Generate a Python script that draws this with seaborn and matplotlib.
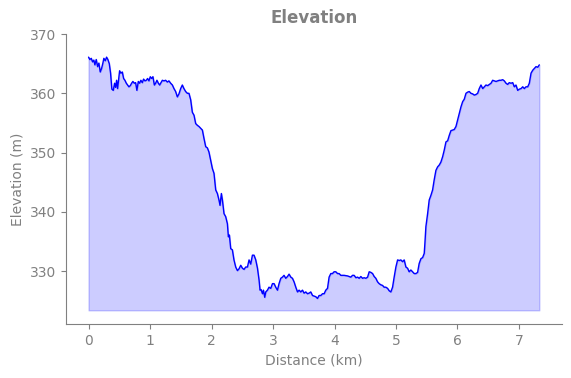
import pandas as pd
import seaborn as sns
import matplotlib.pyplot as plt

distance_km = [
    0.000, 0.021, 0.044, 0.065, 0.086, 0.103, 0.125, 0.147, 0.168, 0.190,
    0.212, 0.233, 0.249, 0.272, 0.293, 0.314, 0.337, 0.358, 0.379, 0.402,
    0.423, 0.440, 0.456, 0.472, 0.488, 0.505, 0.526, 0.549, 0.570, 0.591,
    0.614, 0.635, 0.656, 0.679, 0.700, 0.721, 0.744, 0.765, 0.786, 0.809,
    0.830, 0.851, 0.874, 0.895, 0.917, 0.939, 0.960, 0.982, 1.004, 1.026,
    1.047, 1.070, 1.091, 1.112, 1.135, 1.156, 1.177, 1.200, 1.226, 1.254,
    1.281, 1.307, 1.335, 1.363, 1.389, 1.416, 1.444, 1.470, 1.498, 1.525,
    1.551, 1.579, 1.607, 1.633, 1.661, 1.688, 1.715, 1.742, 1.770, 1.796,
    1.823, 1.851, 1.877, 1.905, 1.932, 1.958, 1.986, 2.014, 2.040, 2.068,
    2.095, 2.121, 2.138, 2.160, 2.177, 2.203, 2.230, 2.258, 2.274, 2.290,
    2.312, 2.339, 2.365, 2.393, 2.421, 2.447, 2.475, 2.502, 2.528, 2.556,
    2.584, 2.610, 2.637, 2.665, 2.691, 2.719, 2.747, 2.773, 2.789, 2.806,
    2.828, 2.844, 2.865, 2.882, 2.909, 2.935, 2.963, 2.991, 3.017, 3.044,
    3.072, 3.098, 3.126, 3.153, 3.179, 3.207, 3.235, 3.261, 3.289, 3.316,
    3.342, 3.370, 3.398, 3.424, 3.451, 3.479, 3.505, 3.533, 3.560, 3.587,
    3.614, 3.642, 3.668, 3.695, 3.723, 3.749, 3.777, 3.805, 3.831, 3.858,
    3.886, 3.912, 3.940, 3.967, 3.993, 4.021, 4.049, 4.075, 4.102, 4.156,
    4.212, 4.265, 4.293, 4.319, 4.347, 4.375, 4.401, 4.428, 4.456, 4.482,
    4.510, 4.538, 4.564, 4.591, 4.619, 4.645, 4.672, 4.700, 4.726, 4.754,
    4.781, 4.807, 4.835, 4.863, 4.889, 4.916, 4.944, 4.970, 4.998, 5.026,
    5.052, 5.079, 5.107, 5.133, 5.161, 5.188, 5.214, 5.242, 5.270, 5.296,
    5.324, 5.351, 5.377, 5.405, 5.433, 5.459, 5.470, 5.486, 5.514, 5.540,
    5.568, 5.595, 5.621, 5.649, 5.677, 5.703, 5.730, 5.758, 5.784, 5.812,
    5.840, 5.866, 5.893, 5.921, 5.947, 5.975, 6.002, 6.028, 6.056, 6.084,
    6.110, 6.138, 6.165, 6.191, 6.219, 6.247, 6.273, 6.300, 6.328, 6.354,
    6.382, 6.410, 6.436, 6.463, 6.491, 6.517, 6.545, 6.572, 6.598, 6.626,
    6.654, 6.680, 6.707, 6.735, 6.761, 6.789, 6.816, 6.842, 6.870, 6.898,
    6.924, 6.951, 6.979, 7.005, 7.033, 7.061, 7.087, 7.114, 7.142, 7.168,
    7.196, 7.224, 7.250, 7.277, 7.305, 7.331,
]

elevation_m = [
    366.1, 365.7, 365.9, 365.3, 365.6, 364.8, 365.7, 364.5, 365.1, 363.6,
    364.2, 365.1, 365.9, 365.5, 366.1, 365.7, 365.0, 363.4, 360.7, 360.5,
    361.7, 361.0, 362.2, 360.8, 362.2, 363.8, 363.4, 363.6, 362.5, 362.2,
    361.7, 361.4, 361.1, 361.3, 361.7, 362.0, 361.7, 361.8, 360.5, 362.0,
    361.7, 362.2, 361.8, 362.4, 362.1, 362.2, 362.5, 362.1, 362.8, 362.5,
    362.8, 361.4, 361.7, 362.2, 361.7, 361.4, 361.8, 362.2, 362.1, 362.2,
    361.9, 362.1, 361.7, 361.4, 360.8, 360.3, 359.4, 359.9, 360.8, 361.4,
    360.8, 360.3, 360.0, 360.0, 358.9, 356.8, 356.3, 354.9, 354.6, 354.4,
    354.1, 353.8, 352.4, 351.0, 350.8, 350.1, 348.7, 347.3, 346.5, 343.7,
    343.1, 342.0, 341.1, 343.1, 342.0, 339.7, 339.2, 338.0, 335.8, 336.1,
    333.8, 333.6, 331.9, 330.7, 330.1, 330.4, 331.0, 330.5, 330.3, 330.7,
    330.7, 331.9, 331.2, 332.7, 332.7, 331.9, 330.5, 328.5, 326.8, 326.9,
    326.2, 326.8, 325.6, 326.5, 326.8, 327.3, 327.1, 327.9, 327.9, 327.3,
    326.8, 327.9, 328.8, 329.0, 329.3, 328.8, 329.1, 329.5, 329.0, 328.8,
    328.2, 327.3, 326.5, 326.8, 326.5, 326.8, 326.3, 326.5, 326.2, 326.3,
    326.5, 325.9, 325.8, 325.7, 325.4, 325.9, 325.9, 326.2, 326.2, 326.8,
    327.1, 329.0, 329.6, 329.6, 329.9, 329.9, 329.6, 329.6, 329.3, 329.3,
    329.2, 329.0, 329.3, 329.3, 328.9, 329.0, 328.8, 329.1, 328.8, 328.9,
    328.8, 329.0, 329.9, 329.8, 329.6, 329.1, 328.8, 328.2, 327.9, 327.7,
    327.6, 327.3, 327.3, 327.1, 326.7, 326.5, 327.3, 329.0, 330.7, 331.9,
    331.8, 331.9, 331.6, 331.9, 330.7, 330.5, 329.9, 330.2, 329.9, 329.6,
    329.6, 329.8, 331.3, 332.1, 332.3, 333.0, 334.7, 337.5, 339.7, 342.0,
    342.8, 343.7, 345.4, 347.0, 347.6, 347.9, 348.4, 349.3, 350.4, 351.8,
    352.0, 352.9, 353.7, 353.8, 353.9, 354.4, 355.5, 356.6, 357.7, 358.6,
    359.0, 360.0, 360.2, 360.3, 360.0, 359.9, 359.7, 359.8, 360.0, 360.8,
    361.4, 360.8, 361.1, 361.4, 361.3, 361.5, 361.7, 362.2, 362.1, 362.0,
    362.1, 362.2, 362.2, 362.3, 362.1, 361.7, 361.5, 361.8, 361.7, 361.8,
    361.1, 361.4, 360.5, 360.7, 360.8, 361.1, 360.8, 361.1, 361.1, 361.7,
    363.4, 363.9, 364.2, 364.5, 364.4, 364.8,
]

df = pd.DataFrame({'Distance_km': distance_km, 'Elevation_m': elevation_m})
base = df['Elevation_m'].min() - 2

sns.set_style("ticks")
fig = plt.figure(figsize=(5.71, 3.78), dpi=100)
ax = fig.add_axes([0.1156, 0.143, 0.8684, 0.767])

ax.fill_between(df['Distance_km'], df['Elevation_m'], base, color='blue', alpha=0.2)
sns.lineplot(data=df, x='Distance_km', y='Elevation_m', color='blue', linewidth=1, ax=ax)

ax.set_ylim(321.1, 370)
ax.set_title("Elevation", color='gray', fontweight='bold', fontsize=12, pad=8)
ax.set_xlabel("Distance (km)", color='gray', fontsize=10)
ax.set_ylabel("Elevation (m)", color='gray', fontsize=10)
ax.tick_params(colors='gray', labelsize=10)
sns.despine(ax=ax)
for side in ['left', 'bottom']:
    ax.spines[side].set_color('gray')

fig.savefig("out.png", dpi=100)
